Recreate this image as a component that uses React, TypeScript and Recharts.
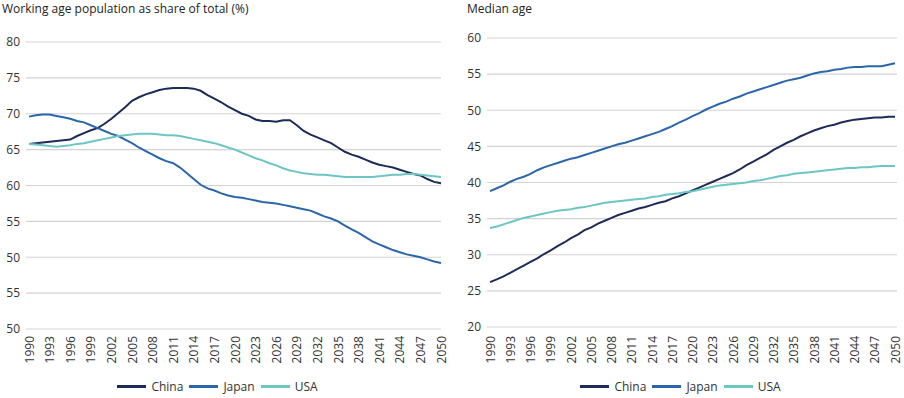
import React from "react";
import { LineChart, Line, XAxis, YAxis, CartesianGrid, Legend } from "recharts";

const years = Array.from({ length: 61 }, (_, i) => 1990 + i);
const yearTicks = years.filter((y) => (y - 1990) % 3 === 0);

// working age population, % of total
const chinaWork = [
  65.8, 65.9, 66.0, 66.1, 66.2, 66.3, 66.4, 66.9, 67.3, 67.7,
  68.0, 68.6, 69.3, 70.1, 70.9, 71.8, 72.3, 72.7, 73.0, 73.3,
  73.5, 73.6, 73.6, 73.6, 73.5, 73.2, 72.6, 72.1, 71.6, 71.0,
  70.5, 70.0, 69.7, 69.2, 69.0, 69.0, 68.9, 69.1, 69.1, 68.4,
  67.6, 67.1, 66.7, 66.3, 65.9, 65.3, 64.7, 64.3, 64.0, 63.6,
  63.2, 62.9, 62.7, 62.5, 62.2, 61.9, 61.6, 61.4, 60.9, 60.5,
  60.3,
];
const japanWork = [
  69.6, 69.8, 69.9, 69.9, 69.7, 69.5, 69.3, 69.0, 68.8, 68.4,
  68.0, 67.6, 67.2, 66.9, 66.4, 65.9, 65.3, 64.8, 64.3, 63.8,
  63.4, 63.1, 62.5, 61.7, 60.9, 60.1, 59.6, 59.3, 58.9, 58.6,
  58.4, 58.3, 58.1, 57.9, 57.7, 57.6, 57.5, 57.3, 57.1, 56.9,
  56.7, 56.5, 56.1, 55.7, 55.4, 55.0, 54.4, 53.9, 53.4, 52.8,
  52.2, 51.8, 51.4, 51.0, 50.7, 50.4, 50.2, 50.0, 49.7, 49.4,
  49.2,
];
const usaWork = [
  65.8, 65.7, 65.6, 65.5, 65.4, 65.5, 65.6, 65.8, 65.9, 66.1,
  66.3, 66.5, 66.7, 66.9, 67.0, 67.1, 67.2, 67.2, 67.2, 67.1,
  67.0, 67.0, 66.9, 66.7, 66.5, 66.3, 66.1, 65.9, 65.6, 65.3,
  65.0, 64.6, 64.2, 63.8, 63.5, 63.1, 62.8, 62.4, 62.1, 61.9,
  61.7, 61.6, 61.5, 61.5, 61.4, 61.3, 61.2, 61.2, 61.2, 61.2,
  61.2, 61.3, 61.4, 61.5, 61.5, 61.6, 61.6, 61.5, 61.4, 61.3,
  61.2,
];

// median age
const chinaAge = [
  26.2, 26.6, 27.0, 27.5, 28.0, 28.5, 29.0, 29.5, 30.1, 30.6,
  31.2, 31.7, 32.3, 32.8, 33.4, 33.8, 34.3, 34.7, 35.1, 35.5,
  35.8, 36.1, 36.4, 36.6, 36.9, 37.2, 37.4, 37.8, 38.1, 38.5,
  38.9, 39.3, 39.7, 40.1, 40.5, 40.9, 41.3, 41.8, 42.4, 42.9,
  43.4, 43.9, 44.5, 45.0, 45.5, 45.9, 46.4, 46.8, 47.2, 47.5,
  47.8, 48.0, 48.3, 48.5, 48.7, 48.8, 48.9, 49.0, 49.0, 49.1,
  49.1,
];
const japanAge = [
  38.8, 39.2, 39.6, 40.1, 40.5, 40.8, 41.2, 41.7, 42.1, 42.4,
  42.7, 43.0, 43.3, 43.5, 43.8, 44.1, 44.4, 44.7, 45.0, 45.3,
  45.5, 45.8, 46.1, 46.4, 46.7, 47.0, 47.4, 47.8, 48.3, 48.7,
  49.2, 49.6, 50.1, 50.5, 50.9, 51.2, 51.6, 51.9, 52.3, 52.6,
  52.9, 53.2, 53.5, 53.8, 54.1, 54.3, 54.5, 54.8, 55.1, 55.3,
  55.4, 55.6, 55.7, 55.9, 56.0, 56.0, 56.1, 56.1, 56.1, 56.3,
  56.5,
];
const usaAge = [
  33.7, 33.9, 34.2, 34.5, 34.8, 35.1, 35.3, 35.5, 35.7, 35.9,
  36.1, 36.2, 36.3, 36.5, 36.6, 36.8, 37.0, 37.2, 37.3, 37.4,
  37.5, 37.6, 37.7, 37.8, 38.0, 38.1, 38.3, 38.4, 38.5, 38.7,
  38.8, 39.0, 39.2, 39.4, 39.6, 39.7, 39.8, 39.9, 40.0, 40.2,
  40.3, 40.5, 40.7, 40.9, 41.0, 41.2, 41.3, 41.4, 41.5, 41.6,
  41.7, 41.8, 41.9, 42.0, 42.0, 42.1, 42.1, 42.2, 42.3, 42.3,
  42.3,
];

const workTicks = [40, 45, 50, 55, 60, 65, 70, 75, 80];
// labels as printed in the source (bottom two are mislabelled there)
const workTickLabels = ["50", "55", "50", "55", "60", "65", "70", "75", "80"];
const ageTicks = [20, 25, 30, 35, 40, 45, 50, 55, 60];

const colors = { China: "#1d2b59", Japan: "#2b66ab", USA: "#6cc6c4" };
const countries = ["China", "Japan", "USA"] as const;

const workData = years.map((year, i) => ({
  year,
  China: chinaWork[i],
  Japan: japanWork[i],
  USA: usaWork[i],
}));
const ageData = years.map((year, i) => ({
  year,
  China: chinaAge[i],
  Japan: japanAge[i],
  USA: usaAge[i],
}));

const YearTick = ({ x, y, payload }: any) => (
  <text
    x={x}
    y={y}
    transform={`rotate(-90, ${x}, ${y})`}
    textAnchor="end"
    dominantBaseline="central"
    fontSize={12}
    fill="#333"
  >
    {payload.value}
  </text>
);

const LegendRow = ({ shift }: { shift: number }) => (
  <div
    style={{
      height: 20,
      display: "flex",
      alignItems: "center",
      justifyContent: "center",
      marginLeft: shift,
      fontSize: 12,
      color: "#333",
    }}
  >
    {countries.map((c) => (
      <div key={c} style={{ display: "flex", alignItems: "center", marginRight: 6 }}>
        <span style={{ width: 29, height: 3, background: colors[c], marginRight: 5 }} />
        <span>{c}</span>
      </div>
    ))}
  </div>
);

type PanelProps = {
  data: any[];
  width: number;
  top: number;
  axisHeight: number;
  yWidth: number;
  right: number;
  ticks: number[];
  tickFormat?: (v: number, i: number) => string;
  xPad: { left: number; right: number };
  tickGap: number;
  legendShift: number;
};

function Panel(p: PanelProps) {
  return (
    <LineChart
      width={p.width}
      height={398}
      data={p.data}
      margin={{ top: p.top, right: p.right, left: 0, bottom: 2 }}
    >
      <CartesianGrid vertical={false} stroke="#d3d3d3" strokeWidth={1.2} />
      <XAxis
        dataKey="year"
        type="number"
        domain={[1990, 2050]}
        ticks={yearTicks}
        interval={0}
        axisLine={false}
        tickLine={false}
        tickSize={0}
        tickMargin={p.tickGap}
        height={p.axisHeight}
        padding={p.xPad}
        tick={<YearTick />}
      />
      <YAxis
        domain={[p.ticks[0], p.ticks[p.ticks.length - 1]]}
        ticks={p.ticks}
        interval={0}
        axisLine={false}
        tickLine={false}
        tickSize={0}
        tickMargin={6}
        width={p.yWidth}
        tick={{ fontSize: 12, fill: "#333" }}
        tickFormatter={p.tickFormat}
      />
      <Legend verticalAlign="bottom" content={() => <LegendRow shift={p.legendShift} />} />
      {countries.map((c) => (
        <Line
          key={c}
          dataKey={c}
          stroke={colors[c]}
          strokeWidth={2}
          dot={false}
          type="linear"
          isAnimationActive={false}
        />
      ))}
    </LineChart>
  );
}

export default function App() {
  return (
    <div
      style={{
        position: "absolute",
        left: 0,
        top: 0,
        width: 904,
        height: 398,
        background: "#fff",
        fontFamily: "'Open Sans', sans-serif",
        color: "#222",
      }}
    >
      <div style={{ position: "absolute", left: 2, top: 0, fontSize: 12 }}>
        Working age population as share of total (%)
      </div>
      <div style={{ position: "absolute", left: 467, top: 0, fontSize: 12 }}>Median age</div>
      <div style={{ position: "absolute", left: 0, top: 0 }}>
        <Panel
          data={workData}
          width={450}
          top={42}
          axisHeight={47}
          yWidth={26}
          right={9}
          ticks={workTicks}
          tickFormat={(v) => workTickLabels[workTicks.indexOf(v)]}
          xPad={{ left: 3, right: 0 }}
          tickGap={7}
          legendShift={0}
        />
      </div>
      <div style={{ position: "absolute", left: 450, top: 0 }}>
        <Panel
          data={ageData}
          width={454}
          top={38}
          axisHeight={49}
          yWidth={37}
          right={7}
          ticks={ageTicks}
          xPad={{ left: 3, right: 2 }}
          tickGap={9}
          legendShift={20}
        />
      </div>
    </div>
  );
}
